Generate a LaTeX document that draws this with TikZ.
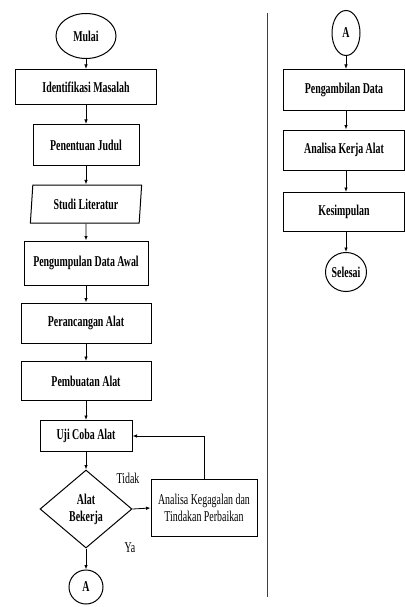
\documentclass[tikz,border=0pt]{standalone}
\usepackage{fontspec}
\setmainfont{Liberation Serif}[FakeStretch=0.66]
\usetikzlibrary{shapes.geometric,arrows.meta}
\begin{document}
\begin{tikzpicture}[x=1pt,y=-1pt,
  base/.style={draw,line width=1pt,inner sep=0pt,align=center,font=\fontsize{15}{17}\selectfont\bfseries},
  proc/.style={base,rectangle,minimum height=#1},
  term/.style={base,ellipse},
  io/.style={base,trapezium,trapezium left angle=82,trapezium right angle=98,trapezium stretches=true},
  dec/.style={base,diamond},
  lbl/.style={font=\fontsize{15}{17}\selectfont},
  arr/.style={line width=0.8pt,-{Latex[length=4.5pt,width=3.5pt]}}]
\useasboundingbox (0,0) rectangle (404,607);
% left column
\node[term,minimum width=60,minimum height=45] (m) at (86,36) {Mulai};
\node[proc=35,minimum width=141] (im) at (86,87) {Identifikasi Masalah};
\node[proc=41,minimum width=106] (pj) at (86,145) {Penentuan Judul};
\node[io,minimum width=112,minimum height=38] (sl) at (86,204) {Studi Literatur};
\node[proc=44,minimum width=124] (pd) at (86,263) {Pengumpulan Data Awal};
\node[proc=40,minimum width=130] (pa) at (86,323) {Perancangan Alat};
\node[proc=39,minimum width=130] (pb) at (86,381) {Pembuatan Alat};
\node[proc=31,minimum width=92] (uc) at (86,436) {Uji Coba Alat};
\node[dec,minimum width=92,minimum height=78] (ab) at (86,509) {Alat\\Bekerja};
\node[proc=57,minimum width=106,font=\fontsize{15}{17}\selectfont] (ak) at (204,508) {Analisa Kegagalan dan\\Tindakan Perbaikan};
\node[term,minimum width=34,minimum height=34] (a1) at (86,587) {A};
\node[lbl] (td) at (128,478) {Tidak};
\node[lbl] (ya) at (130,548) {Ya};
\draw[arr] (m) -- (im);
\draw[arr] (im) -- (pj);
\draw[arr] (pj) -- (sl);
\draw[arr] (sl) -- (pd);
\draw[arr] (pd) -- (pa);
\draw[arr] (pa) -- (pb);
\draw[arr] (pb) -- (uc);
\draw[arr] (uc) -- (ab);
\draw[arr] (ab) -- (a1);
\draw[arr] (ab.east) -- (ak.west);
\draw[arr] (ak.north) |- (uc.east);
% divider
\draw[line width=1pt,black!75] (267,13) -- (267,597);
% right column
\node[term,minimum width=28,minimum height=45] (a2) at (346,33) {A};
\node[proc=41,minimum width=121] (pg) at (344,90) {Pengambilan Data};
\node[proc=40,minimum width=121] (ka) at (344,150) {Analisa Kerja Alat};
\node[proc=39,minimum width=121] (ks) at (344,212) {Kesimpulan};
\node[term,minimum width=41,minimum height=39] (se) at (346,272) {Selesai};
\draw[arr] (a2) -- (a2 |- pg.north);
\draw[arr] (pg.south -| a2) -- (ka.north -| a2);
\draw[arr] (ka.south -| a2) -- (ks.north -| a2);
\draw[arr] (ks.south -| a2) -- (se);
\end{tikzpicture}
\end{document}
